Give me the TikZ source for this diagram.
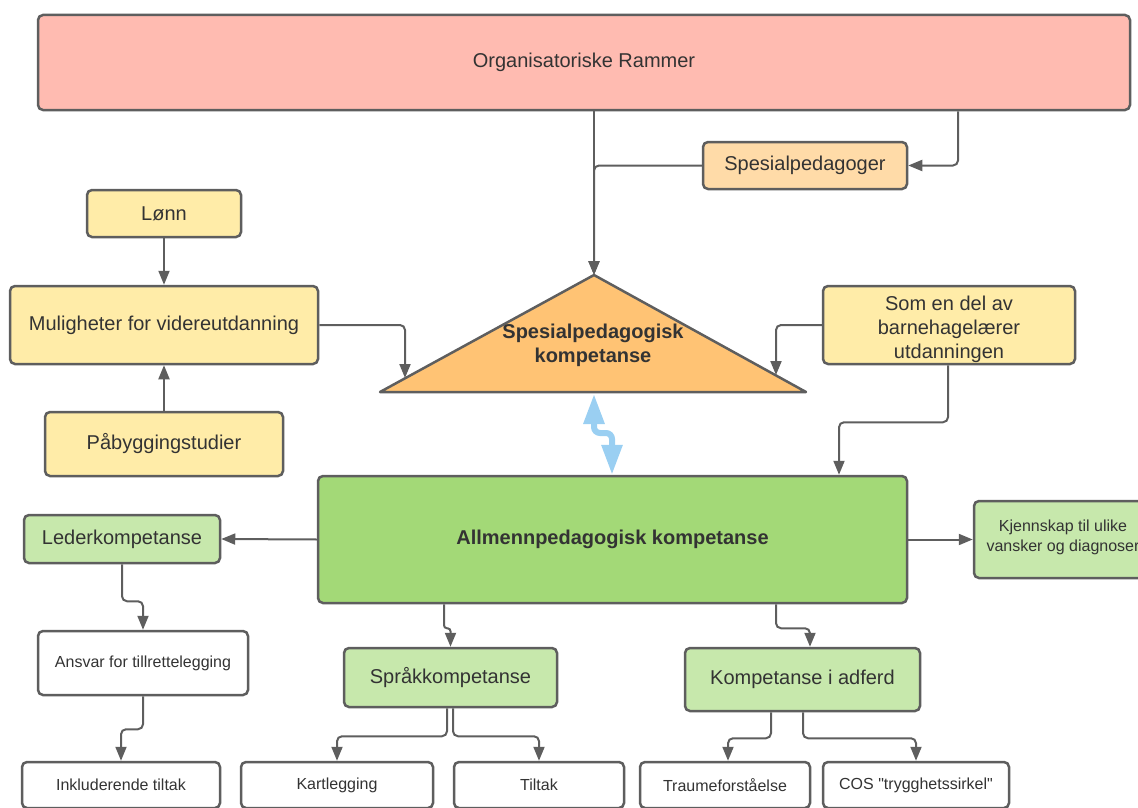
\documentclass[tikz,border=0pt]{standalone}
\usepackage{fontspec}
\setmainfont{Liberation Sans}
\newfontfamily\qfont{Liberation Sans}
\usetikzlibrary{arrows.meta}
\definecolor{strk}{HTML}{5E5E5E}
\definecolor{txt}{HTML}{333333}
\definecolor{orgfill}{HTML}{FFBBB1}
\definecolor{spesfill}{HTML}{FFDBA8}
\definecolor{yelfill}{HTML}{FFECA8}
\definecolor{trifill}{HTML}{FFC374}
\definecolor{dkgreen}{HTML}{A3D977}
\definecolor{ltgreen}{HTML}{C7E8AC}
\definecolor{bluearr}{HTML}{9ACFF2}
\begin{document}
\begin{tikzpicture}[x=1pt,y=-1pt,
  box/.style={draw=strk, line width=2.5pt, rounded corners=5pt, text=txt, align=center, inner sep=0pt},
  big/.style={font=\fontsize{20}{24}\selectfont},
  small/.style={font=\fontsize{16}{19}\selectfont},
  conn/.style={draw=strk, line width=2pt, rounded corners=5pt, -{Triangle[length=14pt,width=11pt]}},
]
\useasboundingbox (0,0) rectangle (1138,808);
\clip (0,0) rectangle (1138,808);

% nodes
\node[box, big, fill=orgfill, minimum width=1092pt, minimum height=95pt] (org) at (584,62.5) {Organisatoriske Rammer};
\node[box, big, fill=spesfill, minimum width=204pt, minimum height=47pt] (spes) at (805,165.5) {Spesialpedagoger};
\node[box, big, fill=yelfill, minimum width=154pt, minimum height=47pt] (lonn) at (164,213.5) {Lønn};
\node[box, big, fill=yelfill, minimum width=308pt, minimum height=78pt] (mul) at (164,325) {Muligheter for videreutdanning};
\node[box, big, fill=yelfill, minimum width=238pt, minimum height=64pt] (pab) at (164,444) {Påbyggingstudier};
\node[box, fill=yelfill, minimum width=252pt, minimum height=78pt,
  label={[text=txt, align=center, font=\fontsize{20}{24}\selectfont, yshift=-4pt]center:Som en del av\\barnehagelærer\\utdanningen}] (som) at (949,325) {};

% triangle
\coordinate (tritop) at (594,275);
\coordinate (trileft) at (380,392);
\coordinate (triright) at (806,392);
\coordinate (tl) at (405,378);
\coordinate (tr) at (776,375);
\coordinate (tribase) at (594,394);
\draw[strk, line width=2.5pt, line join=round, fill=trifill] (tritop) -- (trileft) -- (triright) -- cycle;
\node[text=txt, align=center, font=\fontsize{20}{24}\selectfont\bfseries] (tritext) at (593,345) {Spesialpedagogisk\\kompetanse};

\node[box, big, fill=dkgreen, minimum width=589pt, minimum height=127pt] (allm) at (612.5,539.5) {\bfseries Allmennpedagogisk kompetanse};
\node[box, big, fill=ltgreen, minimum width=196pt, minimum height=48pt] (leder) at (122,539) {Lederkompetanse};
\node[box, fill=ltgreen, minimum width=176pt, minimum height=77pt, font=\fontsize{16}{20}\selectfont] (kjenn) at (1062,539.5) {};
\node[text=txt, align=center, font=\fontsize{16}{20}\selectfont, inner sep=0pt] (kjenntext) at (1063,537) {Kjennskap til ulike\\vansker og diagnoser};
\node[box, small, fill=white, minimum width=210pt, minimum height=64pt] (ansvar) at (143,663) {Ansvar for tillrettelegging};
\node[box, small, fill=white, minimum width=198pt, minimum height=46pt] (inkl) at (121,785) {Inkluderende tiltak};
\node[box, big, fill=ltgreen, minimum width=213pt, minimum height=59pt] (sprak) at (450.5,677.5) {Språkkompetanse};
\node[box, small, fill=white, minimum width=192pt, minimum height=46pt] (kart) at (337,785) {Kartlegging};
\node[box, small, fill=white, minimum width=170pt, minimum height=46pt] (tiltak) at (539,785) {Tiltak};
\node[box, big, fill=ltgreen, minimum width=235pt, minimum height=63pt] (adferd) at (802.5,679.5) {Kompetanse i adferd};
\node[box, small, fill=white, minimum width=170pt, minimum height=46pt] (traume) at (725,785) {Traumeforståelse};
\node[box, small, fill=white, minimum width=186pt, minimum height=46pt] (cos) at (916,785) {COS {\qfont\char"22}trygghetssirkel{\qfont\char"22}};

% connectors
\draw[conn] (594,0 |- org.south) -- (tritop);
\draw[conn] (958,0 |- org.south) |- (spes.east);
\draw[conn] (spes.west) -| (tritop);
\draw[conn] (lonn.south) -- (mul.north);
\draw[conn] (pab.north) -- (mul.south);
\draw[conn] (mul.east) -| (tl);
\draw[conn] (som.west) -| (tr);
\draw[conn] (948,0 |- som.south) -- ++(0,57) -| (839,0 |- allm.north);
\draw[conn] (allm.west) -- (leder.east);
\draw[conn] (allm.east) -- (kjenn.west);
\draw[conn] (leder.south) -- ++(0,37) -| (ansvar.north);
\draw[conn] (ansvar.south) -- ++(0,33) -| (inkl.north);
\draw[conn, rounded corners=3pt] (444,0 |- allm.south) -- ++(0,24) -| (sprak.north);
\draw[conn] (447,0 |- sprak.south) -- ++(0,28) -| (kart.north);
\draw[conn] (453,0 |- sprak.south) -- ++(0,28) -| (tiltak.north);
\draw[conn] (776,0 |- allm.south) -- ++(0,24) -| (810,0 |- adferd.north);
\draw[conn] (771,0 |- adferd.south) -- ++(0,26) -| (728,0 |- traume.north);
\draw[conn] (803,0 |- adferd.south) -- ++(0,26) -| (cos.north);

% blue double arrow
\draw[bluearr, line width=6pt, rounded corners=6pt,
  {Triangle[length=30pt,width=20pt]}-{Triangle[length=30pt,width=20pt]}]
  (tribase) -- (594,433) -- (612,433) -- (612,0 |- allm.north);
\end{tikzpicture}
\end{document}
